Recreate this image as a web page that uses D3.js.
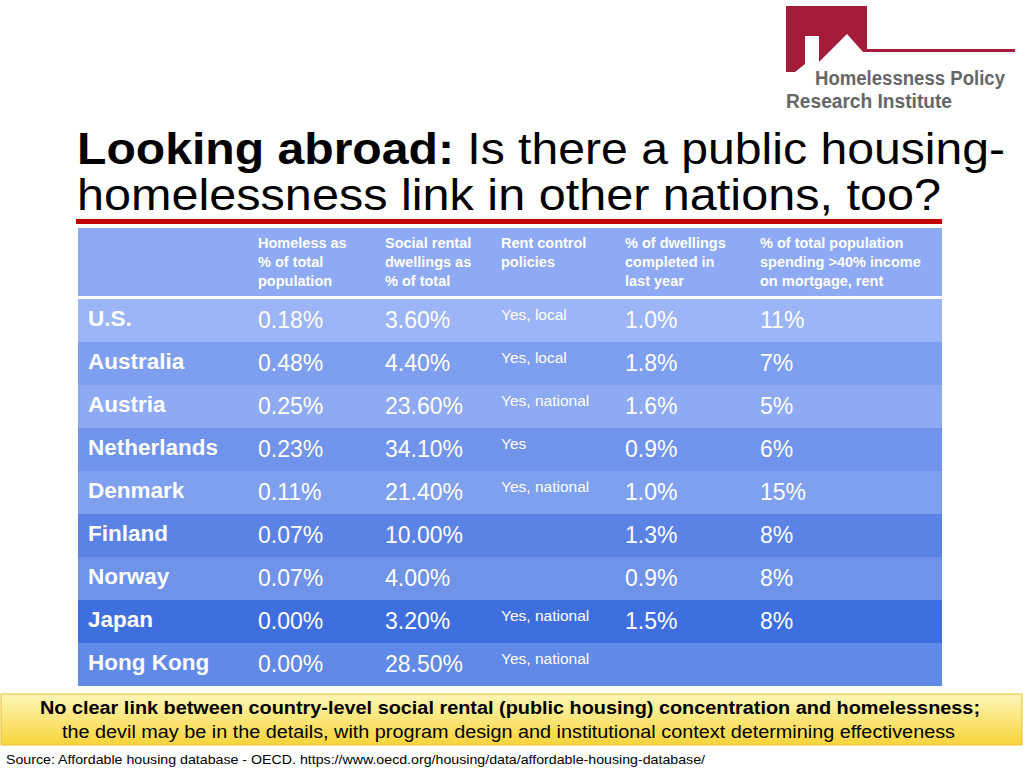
<!DOCTYPE html>
<html>
<head>
<meta charset="utf-8">
<script src="https://cdn.jsdelivr.net/npm/d3@7"></script>
<style>
  body { margin: 0; background: #fff; }
  svg { display: block; font-family: "Liberation Sans", Arial, sans-serif; }
</style>
</head>
<body>
<div id="chart"></div>
<script>
// table content
const countries = ["U.S.", "Australia", "Austria", "Netherlands", "Denmark", "Finland", "Norway", "Japan", "Hong Kong"];
const homeless = ["0.18%", "0.48%", "0.25%", "0.23%", "0.11%", "0.07%", "0.07%", "0.00%", "0.00%"];
const socialRental = ["3.60%", "4.40%", "23.60%", "34.10%", "21.40%", "10.00%", "4.00%", "3.20%", "28.50%"];
const rentControl = ["Yes, local", "Yes, local", "Yes, national", "Yes", "Yes, national", "", "", "Yes, national", "Yes, national"];
const completed = ["1.0%", "1.8%", "1.6%", "0.9%", "1.0%", "1.3%", "0.9%", "1.5%", ""];
const spending = ["11%", "7%", "5%", "6%", "15%", "8%", "8%", "8%", ""];
const headers = [
  ["Homeless as", "% of total", "population"],
  ["Social rental", "dwellings as", "% of total"],
  ["Rent control", "policies"],
  ["% of dwellings", "completed in", "last year"],
  ["% of total population", "spending >40% income", "on mortgage, rent"]
];
const rowColors = ["#9cb5f7", "#7e9eef", "#8eaaf3", "#7093ec", "#7f9fef", "#5b83e6", "#7093ea", "#3f6fdf", "#6089e8"];

const width = 1024, height = 768;
const svg = d3.select("#chart").append("svg")
    .attr("width", width)
    .attr("height", height);

const defs = svg.append("defs");
const yg = defs.append("linearGradient").attr("id", "yel").attr("x1", 0).attr("x2", 0).attr("y1", 0).attr("y2", 1);
yg.append("stop").attr("offset", "0%").attr("stop-color", "#fff7b8");
yg.append("stop").attr("offset", "100%").attr("stop-color", "#f7d43a");

// logo
svg.append("polygon")
    .attr("points", [[786,6],[867,6],[867,49],[1015,49],[1015,52],[863,52],[847,34],[819,62],[819,36],[805,36],[805,64],[795,72],[786,72]].join(" "))
    .attr("fill", "#a51c3a");
svg.append("text").attr("x", 815).attr("y", 85)
    .attr("font-weight", "bold").attr("font-size", 20).attr("fill", "#666")
    .attr("textLength", 190).attr("lengthAdjust", "spacingAndGlyphs")
    .text("Homelessness Policy");
svg.append("text").attr("x", 786).attr("y", 108)
    .attr("font-weight", "bold").attr("font-size", 20).attr("fill", "#666")
    .attr("textLength", 166).attr("lengthAdjust", "spacingAndGlyphs")
    .text("Research Institute");

// title
const t1 = svg.append("text").attr("x", 77).attr("y", 164).attr("font-size", 44).attr("fill", "#000")
    .attr("textLength", 928).attr("lengthAdjust", "spacingAndGlyphs");
t1.append("tspan").attr("font-weight", "bold").text("Looking abroad: ");
t1.append("tspan").text("Is there a public housing-");
svg.append("text").attr("x", 77).attr("y", 210).attr("font-size", 44).attr("fill", "#000")
    .attr("textLength", 864).attr("lengthAdjust", "spacingAndGlyphs")
    .text("homelessness link in other nations, too?");
svg.append("rect").attr("x", 76).attr("y", 219).attr("width", 866).attr("height", 5).attr("fill", "#c00000");

// table
const tableLeft = 78, tableRight = 942;
const colX = [88, 258, 385, 501, 625, 760];

svg.append("rect").attr("x", tableLeft).attr("y", 228).attr("width", tableRight - tableLeft).attr("height", 68).attr("fill", "#8eaaf5");
svg.append("rect").attr("x", tableLeft).attr("y", 296).attr("width", tableRight - tableLeft).attr("height", 3).attr("fill", "#fff");

headers.forEach((lines, j) => {
  const t = svg.append("text").attr("x", colX[j + 1]).attr("y", 248)
      .attr("font-size", 14.5).attr("font-weight", "bold").attr("fill", "#fff");
  lines.forEach((l, k) => t.append("tspan").attr("x", colX[j + 1]).attr("dy", k ? 19 : 0).text(l));
});

const y = d3.scaleBand().domain(countries).range([299, 686]);

const rows = svg.append("g").selectAll("g")
  .data(countries)
  .join("g")
    .attr("transform", d => `translate(0,${y(d)})`);

rows.append("rect")
    .attr("x", tableLeft).attr("width", tableRight - tableLeft)
    .attr("height", y.bandwidth())
    .attr("fill", (d, i) => rowColors[i]);

rows.append("text").attr("x", colX[0]).attr("y", 27)
    .attr("font-size", 22.5).attr("font-weight", "bold").attr("fill", "#fff")
    .text(d => d);

const numCols = [[homeless, 1], [socialRental, 2], [completed, 4], [spending, 5]];
numCols.forEach(([arr, c]) => {
  rows.append("text").attr("x", colX[c]).attr("y", 29)
      .attr("font-size", 23).attr("fill", "#fff")
      .text((d, i) => arr[i]);
});
rows.append("text").attr("x", colX[3]).attr("y", 21)
    .attr("font-size", 15.5).attr("fill", "#fff")
    .text((d, i) => rentControl[i]);

// yellow note
svg.append("rect").attr("x", 1).attr("y", 694).attr("width", 1021).attr("height", 51)
    .attr("fill", "url(#yel)").attr("stroke", "#e8c030").attr("stroke-width", 1);
svg.append("text").attr("x", 40).attr("y", 714)
    .attr("font-size", 17.5).attr("font-weight", "bold").attr("fill", "#000")
    .attr("textLength", 940).attr("lengthAdjust", "spacingAndGlyphs")
    .text("No clear link between country-level social rental (public housing) concentration and homelessness;");
svg.append("text").attr("x", 62).attr("y", 738)
    .attr("font-size", 17.5).attr("fill", "#000")
    .attr("textLength", 893).attr("lengthAdjust", "spacingAndGlyphs")
    .text("the devil may be in the details, with program design and institutional context determining effectiveness");

svg.append("text").attr("x", 6).attr("y", 764).attr("font-size", 13).attr("fill", "#000")
    .attr("textLength", 699).attr("lengthAdjust", "spacingAndGlyphs")
    .text("Source: Affordable housing database - OECD. https://www.oecd.org/housing/data/affordable-housing-database/");
</script>
</body>
</html>
